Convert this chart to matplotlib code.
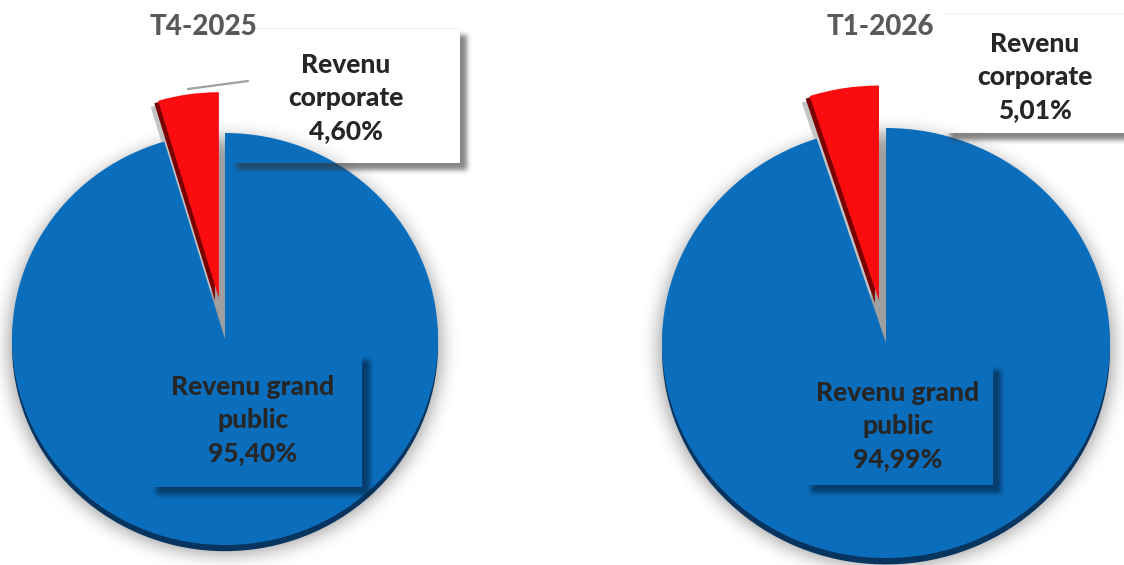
import matplotlib
matplotlib.use("Agg")
import numpy as np
import matplotlib.pyplot as plt
from matplotlib.patches import Rectangle
from matplotlib.colors import to_rgb

periods = ["T4-2025", "T1-2026"]
categories = ["Revenu corporate", "Revenu grand public"]
corporate = [4.60, 5.01]
grand_public = [95.40, 94.99]

W, H = 1124, 565
BLUE = "#0b6ebd"
BLUE_DARK = "#07355f"
RED = "#fb0c0f"
RED_DARK = "#7a0000"
TXT = "#262626"
FONT = "Lato"
WEIGHT = 900

fig = plt.figure(figsize=(W / 100, H / 100), dpi=100)
fig.patch.set_facecolor("white")

# pie geometry in pixels: (cx, cy, rx, ry)
pies = [(225, 339, 213, 206), (886, 343, 224, 215)]


def fmt(v):
    return f"{v:.2f}".replace(".", ",") + "%"


def blur(a, sigma):
    r = int(3 * sigma)
    k = np.exp(-0.5 * (np.arange(-r, r + 1) / sigma) ** 2)
    k /= k.sum()
    a = np.apply_along_axis(lambda m: np.convolve(m, k, mode="same"), 0, a)
    a = np.apply_along_axis(lambda m: np.convolve(m, k, mode="same"), 1, a)
    return a


def shadow_image(ax, mask_fn, ex, color, amax, sigma, cut_fn=None):
    x0, x1, y0, y1 = ex
    xs = np.arange(x0, x1) + 0.5
    ys = np.arange(y0, y1) + 0.5
    X, Y = np.meshgrid(xs, ys)
    a = blur(mask_fn(X, Y).astype(float), sigma) * amax
    if cut_fn is not None:
        a[cut_fn(X, Y)] = 0
    rgba = np.zeros(a.shape + (4,))
    rgba[..., :3] = to_rgb(color)
    rgba[..., 3] = np.clip(a, 0, 1)
    ax.imshow(rgba, extent=(x0, x1, y1, y0), origin="upper", aspect="auto",
              interpolation="bilinear", zorder=1)


# underlay for pie glow
ul = fig.add_axes([0, 0, 1, 1], zorder=0)
ul.axis("off")
for (cx, cy, rx, ry) in pies:
    def m(X, Y, cx=cx, cy=cy, rx=rx, ry=ry):
        return ((X - cx) / (rx + 3)) ** 2 + ((Y - cy - 7) / (ry + 2)) ** 2 <= 1
    shadow_image(ul, m, (cx - rx - 40, cx + rx + 40, cy - ry - 40, min(cy + ry + 40, H)),
                 "#000000", 0.38, 9)
ul.set_xlim(0, W)
ul.set_ylim(H, 0)

for i, (cx, cy, rx, ry) in enumerate(pies):
    ax = fig.add_axes([(cx - rx) / W, (H - (cy + ry)) / H, 2 * rx / W, 2 * ry / H],
                      zorder=1)
    vals = [corporate[i], grand_public[i]]
    # dark rim (3D thickness)
    rim, _ = ax.pie(vals, startangle=90, counterclock=True, colors=["none", BLUE_DARK],
                    explode=[0.2, 0], center=(0, -0.03), radius=1.0,
                    wedgeprops=dict(linewidth=0))
    rim[1].set_zorder(1)
    # gray shadow of red wedge
    gsh, _ = ax.pie(vals, startangle=90, counterclock=True, colors=["#c4c4c4", "none"],
                    explode=[0.2, 0], center=(-0.035, -0.03), radius=1.0,
                    wedgeprops=dict(linewidth=0))
    gsh[0].set_zorder(1.5)
    # red side
    side, _ = ax.pie(vals, startangle=90, counterclock=True, colors=[RED_DARK, "none"],
                     explode=[0.2, 0], center=(-0.018, -0.012), radius=1.0,
                     wedgeprops=dict(linewidth=0))
    side[0].set_zorder(2)
    wedges, _ = ax.pie(vals, startangle=90, counterclock=True, colors=[RED, BLUE],
                       explode=[0.2, 0], radius=1.0, wedgeprops=dict(linewidth=0))
    wedges[0].set_zorder(3)
    wedges[1].set_zorder(2.5)
    for p in ax.patches:
        p.set_clip_on(False)
    ax.set_aspect("auto")
    ax.set_xlim(-1, 1)
    ax.set_ylim(-1, 1)
    ax.axis("off")

ov = fig.add_axes([0, 0, 1, 1], zorder=10)
ov.axis("off")
ov.patch.set_visible(False)


def box_shadow(x0, y0, x1, y1, color, off=8, amax=0.6, sigma=2.5):
    def m(X, Y):
        return (X >= x0 + off) & (X <= x1 + off) & (Y >= y0 + off) & (Y <= y1 + off)

    def cut(X, Y):
        return (X >= x0) & (X <= x1) & (Y >= y0) & (Y <= y1)
    shadow_image(ov, m, (x0 - 10, x1 + off + 12, y0 - 10, min(y1 + off + 12, H)),
                 color, amax, sigma, cut)


# titles
title_pos = [(203, 27), (880, 27)]
for (tx, ty), t in zip(title_pos, periods):
    ov.text(tx, ty, t, ha="center", va="center", fontsize=20, fontweight=WEIGHT,
            color="#595959", family=FONT)

# corporate label boxes (white)
corp_boxes = [(230, 28, 460, 163), (943, 13, 1140, 133)]
corp_text = [(346, 98), (1035, 77)]
for i, ((x0, y0, x1, y1), (tx, ty)) in enumerate(zip(corp_boxes, corp_text)):
    box_shadow(x0, y0, x1, y1, "#333333", off=7, amax=0.6, sigma=2.5)
    ov.add_patch(Rectangle((x0, y0), x1 - x0, 1.0, facecolor="#f0f0f0", edgecolor="none",
                           zorder=2))
    ov.text(tx, ty, "Revenu\ncorporate\n" + fmt(corporate[i]), ha="center", va="center",
            fontsize=19, fontweight=WEIGHT, color=TXT, family=FONT, linespacing=1.45,
            zorder=3)

# leader line left pie
ov.plot([188, 248], [89, 81], color="#a0a0a0", lw=1.6, solid_capstyle="round", zorder=3)

# grand public label boxes (blue)
gp_boxes = [(148, 352, 362, 487), (803, 362, 993, 485)]
gp_text = [(253, 420), (898, 426)]
for i, ((x0, y0, x1, y1), (tx, ty)) in enumerate(zip(gp_boxes, gp_text)):
    box_shadow(x0, y0, x1, y1, "#031c36", off=8, amax=0.6, sigma=2.5)
    ov.text(tx, ty, "Revenu grand\npublic\n" + fmt(grand_public[i]), ha="center",
            va="center", fontsize=19, fontweight=WEIGHT, color=TXT, family=FONT,
            linespacing=1.45, zorder=3)

ov.set_xlim(0, W)
ov.set_ylim(H, 0)

fig.savefig("out.png", dpi=100, facecolor="white")
